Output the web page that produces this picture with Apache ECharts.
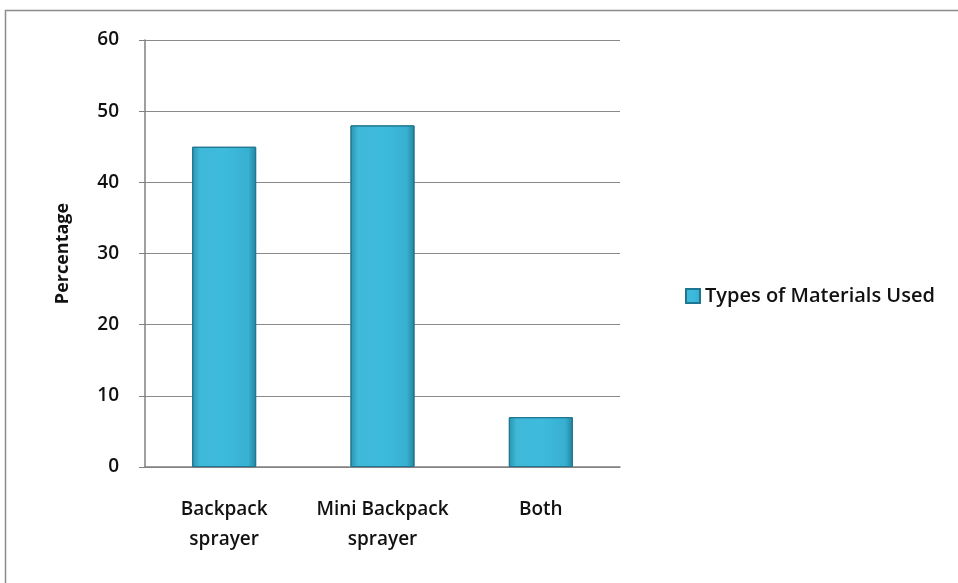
<!DOCTYPE html>
<html>
<head>
<meta charset="utf-8">
<script src="https://cdn.jsdelivr.net/npm/echarts@6/dist/echarts.min.js"></script>
<style>
  html, body { margin: 0; padding: 0; background: #fff; }
  #main { width: 958px; height: 583px; }
</style>
</head>
<body>
<div id="main"></div>
<script>
// data
var categories = ['Backpack\nsprayer', 'Mini Backpack\nsprayer', 'Both'];
var percentValues = [45, 48, 7];
var seriesName = 'Types of Materials Used';

var barColor = new echarts.graphic.LinearGradient(0, 0, 1, 0, [
    {offset: 0, color: '#2a93b0'},
    {offset: 0.12, color: '#40b8d8'},
    {offset: 0.5, color: '#3dbbdd'},
    {offset: 0.88, color: '#38b0d0'},
    {offset: 1, color: '#22839e'}
]);

var myChart = echarts.init(document.getElementById('main'));

myChart.setOption({
    backgroundColor: '#fff',
    textStyle: {fontFamily: 'Open Sans'},
    graphic: [
        {
            type: 'rect',
            shape: {x: 5.5, y: 10.5, width: 1000, height: 700},
            style: {fill: 'none', stroke: '#8c8c8c', lineWidth: 1.5}
        }
    ],
    grid: {left: 145, right: 338, top: 40, bottom: 116},
    legend: {
        left: 680,
        top: 281,
        icon: 'rect',
        itemWidth: 14,
        itemHeight: 14,
        itemGap: 4,
        textStyle: {fontSize: 20, color: '#111', fontWeight: 600, fontFamily: 'Open Sans'},
        data: [seriesName]
    },
    xAxis: {
        type: 'category',
        data: categories,
        axisLine: {lineStyle: {color: '#808080', width: 1.5}},
        axisTick: {show: false},
        axisLabel: {
            interval: 0, fontSize: 19, color: '#111', fontWeight: 600, margin: 28, lineHeight: 30
        }
    },
    yAxis: {
        type: 'value',
        min: 0,
        max: 60,
        interval: 10,
        name: 'Percentage',
        nameLocation: 'middle',
        nameGap: 73,
        nameTextStyle: {fontSize: 18, fontWeight: 'bold', color: '#111'},
        axisLine: {show: true, lineStyle: {color: '#808080', width: 1.5}},
        axisTick: {show: true, length: 6, lineStyle: {color: '#808080'}},
        axisLabel: {fontSize: 19, color: '#111', fontWeight: 600, margin: 26},
        splitLine: {lineStyle: {color: '#8a8a8a', width: 1}}
    },
    series: [
        {
            name: seriesName,
            type: 'bar',
            data: percentValues,
            barWidth: 64,
            itemStyle: {color: barColor, borderColor: '#1f7690', borderWidth: 1}
        }
    ]
});
</script>
</body>
</html>
